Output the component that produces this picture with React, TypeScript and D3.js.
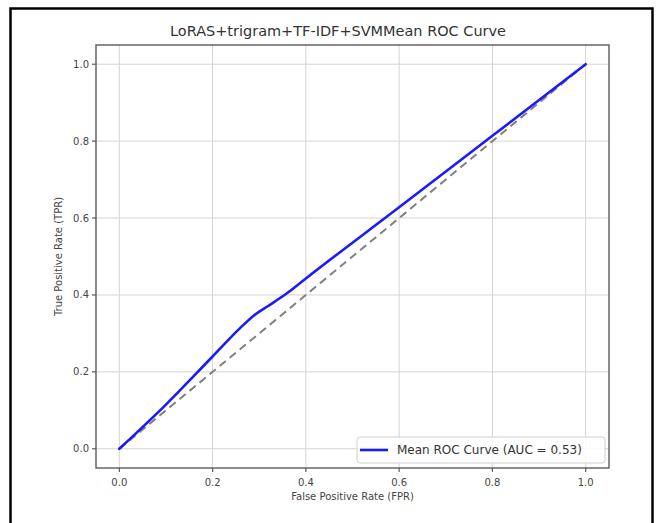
import React from "react";
import * as d3 from "d3";

const fprValues = [0, 0.1, 0.2, 0.26, 0.29, 0.32, 0.36, 0.4, 0.6, 0.8, 1.0];
const tprValues = [0, 0.115, 0.24, 0.315, 0.348, 0.372, 0.405, 0.443, 0.628, 0.814, 1.0];
const chanceLine = [0, 1];
const xTicks = [0, 0.2, 0.4, 0.6, 0.8, 1.0];
const yTicks = [0, 0.2, 0.4, 0.6, 0.8, 1.0];
const titleText = "LoRAS+trigram+TF-IDF+SVMMean ROC Curve";
const xLabel = "False Positive Rate (FPR)";
const yLabel = "True Positive Rate (TPR)";
const legendLabel = "Mean ROC Curve (AUC = 0.53)";

const W = 661;
const H = 523;
const plot = { left: 96, right: 609, top: 45, bottom: 468 };
const font = "'DejaVu Sans', sans-serif";

export default function App() {
  const x = d3.scaleLinear().domain([-0.05, 1.05]).range([plot.left, plot.right]);
  const y = d3.scaleLinear().domain([-0.05, 1.05]).range([plot.bottom, plot.top]);

  const pts: [number, number][] = fprValues.map((f, i) => [f, tprValues[i]]);
  const line = d3
    .line<[number, number]>()
    .x((d) => x(d[0]))
    .y((d) => y(d[1]))
    .curve(d3.curveMonotoneX);
  const diag = d3
    .line<number>()
    .x((d) => x(d))
    .y((d) => y(d));

  const fmt = d3.format(".1f");
  const spine = "#5a5a5a";

  return (
    <div style={{ position: "absolute", left: 0, top: 0 }}>
      <svg width={W} height={H} style={{ display: "block", fontFamily: font }}>
        <rect x={0} y={0} width={W} height={H} fill="#ffffff" />
        <rect x={10.5} y={8.5} width={642} height={530} fill="none" stroke="#000" strokeWidth={2.5} />
        {/* grid */}
        {xTicks.map((t) => (
          <line key={"gx" + t} x1={x(t)} x2={x(t)} y1={plot.top} y2={plot.bottom} stroke="#d4d4d4" strokeWidth={1} />
        ))}
        {yTicks.map((t) => (
          <line key={"gy" + t} x1={plot.left} x2={plot.right} y1={y(t)} y2={y(t)} stroke="#d4d4d4" strokeWidth={1} />
        ))}
        {/* chance line */}
        <path d={diag(chanceLine) || ""} fill="none" stroke="#808080" strokeWidth={2} strokeDasharray="8,5" />
        {/* mean ROC */}
        <path d={line(pts) || ""} fill="none" stroke="#1a1aff" strokeWidth={2.6} strokeLinejoin="round" strokeLinecap="round" />
        {/* spines */}
        <rect
          x={plot.left}
          y={plot.top}
          width={plot.right - plot.left}
          height={plot.bottom - plot.top}
          fill="none"
          stroke={spine}
          strokeWidth={1.4}
        />
        {/* x ticks */}
        {xTicks.map((t) => (
          <g key={"xt" + t}>
            <line x1={x(t)} x2={x(t)} y1={plot.bottom} y2={plot.bottom + 4} stroke={spine} strokeWidth={1.2} />
            <text x={x(t)} y={plot.bottom + 18} textAnchor="middle" fontSize={10} fill="#444">
              {fmt(t)}
            </text>
          </g>
        ))}
        {/* y ticks */}
        {yTicks.map((t) => (
          <g key={"yt" + t}>
            <line x1={plot.left - 4} x2={plot.left} y1={y(t)} y2={y(t)} stroke={spine} strokeWidth={1.2} />
            <text x={plot.left - 7} y={y(t)} dy="0.35em" textAnchor="end" fontSize={10} fill="#444">
              {fmt(t)}
            </text>
          </g>
        ))}
        {/* axis labels */}
        <text x={(plot.left + plot.right) / 2} y={500} textAnchor="middle" fontSize={10} fill="#444">
          {xLabel}
        </text>
        <text
          transform={`translate(62,${(plot.top + plot.bottom) / 2}) rotate(-90)`}
          textAnchor="middle"
          fontSize={10}
          fill="#444"
        >
          {yLabel}
        </text>
        {/* title */}
        <text x={338} y={36} textAnchor="middle" fontSize={14} fill="#333" textLength={336} lengthAdjust="spacingAndGlyphs">
          {titleText}
        </text>
        {/* legend */}
        <rect x={357} y={437} width={248} height={26} rx={3} fill="#fff" fillOpacity={0.85} stroke="#d0d0d0" strokeWidth={1} />
        <line x1={360} x2={388} y1={450} y2={450} stroke="#1a1aff" strokeWidth={2.6} />
        <text x={397} y={450} dy="0.35em" fontSize={12} fill="#333">
          {legendLabel}
        </text>
      </svg>
    </div>
  );
}
